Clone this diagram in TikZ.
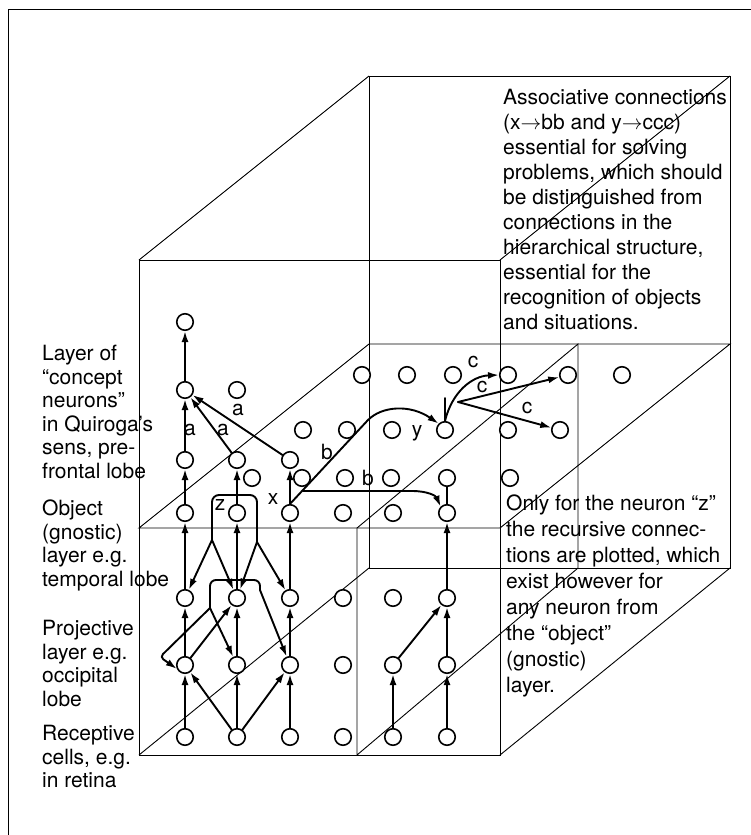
\documentclass[tikz,border=0pt]{standalone}
\usepackage{fontspec}
\setmainfont{TeX Gyre Heros}
\usetikzlibrary{arrows.meta}
\tikzset{
  neuron/.style={circle, draw, line width=1.6pt, fill=white, minimum size=16.5pt, inner sep=0pt},
  link/.style={line width=1.9pt, line cap=round, line join=round},
  syn/.style={link, -{Latex[length=11pt,width=7pt]}},
  wire/.style={line width=0.9pt},
  note/.style={font=\fontsize{21}{23.5}\selectfont, align=left, anchor=north west, inner sep=0pt},
  tag/.style={font=\fontsize{21}{23.5}\selectfont, inner sep=0pt},
}
\begin{document}
\begin{tikzpicture}[x=1pt,y=-1pt]
	\useasboundingbox (0,0) rectangle (751,835);
	\draw[line width=1.2pt] (8.6,835) -- (8.6,9.3) -- (751,9.3);
	% the cube with its layers
	\draw[wire] (369,76) rectangle (730,568);
	\draw[wire] (139,260) rectangle (500,755);
	\draw[wire] (139,260) -- (369,76) (500,260) -- (730,76)
		(139,755) -- (369,568) (500,755) -- (730,568);
	\draw[wire] (139,528) -- (500,528) -- (730,344) -- (369,344) -- cycle;
	\draw[wire] (357,755) -- (357,528) -- (578,344) -- (578,568) -- cycle;
	% texts
	\node[note] (lconcept) at (42,345) {Layer of\\“concept\\neurons”\\in Quiroga’s\\sens, pre-\\frontal lobe};
	\node[note] (lobject) at (42,500) {Object\\(gnostic)\\layer e.g.\\temporal lobe};
	\node[note] (lproj) at (42,620) {Projective\\layer e.g.\\occipital\\lobe};
	\node[note] (lrec) at (42,725) {Receptive\\cells, e.g.\\in retina};
	\node[note, font=\fontsize{21}{25}\selectfont] (assoc) at (503,89) {Associative connections\\(x$\rightarrow$bb and y$\rightarrow$ccc)\\essential for solving\\problems, which should\\be distinguished from\\connections in the\\hierarchical structure,\\essential for the\\recognition of objects\\and situations.};
	\node[note, font=\fontsize{21}{26}\selectfont] (recur) at (506,495) {Only for the neuron “z”\\the recursive connec-\\tions are plotted, which\\exist however for\\any neuron from\\the “object”\\(gnostic)\\layer.};
	% neurons
	\foreach \i/\x in {1/185,2/237,3/290,4/343,5/393,6/447} {
		\node[neuron] (r\i) at (\x,737) {};
		\node[neuron] (p\i) at (\x,665) {};
		\node[neuron] (q\i) at (\x,598) {};
		\node[neuron] (o\i) at (\x,513) {};
	}
	\foreach \i/\x in {1/252,2/302,3/345,4/391,5/447,6/510}
		\node[neuron] (ob\i) at (\x,478) {};
	\foreach \i/\x in {1/185,2/237,3/290}
		\node[neuron] (k\i) at (\x,460) {};
	\foreach \i/\x in {1/303,2/347,3/392,4/445,5/508,6/560}
		\node[neuron] (kb\i) at (\x,430) {};
	\foreach \i/\x in {1/185,2/237}
		\node[neuron] (kc\i) at (\x,390) {};
	\foreach \i/\x in {1/362,2/407,3/453,4/508,5/568,6/622}
		\node[neuron] (kd\i) at (\x,375) {};
	\node[neuron] (top) at (185,322) {};
	% hierarchical connections
	\foreach \a/\b in {r1/p1,p1/q1,q1/o1,o1/k1,k1/kc1,kc1/top,r2/p2,p2/q2,q2/o2,o2/k2,
		r3/p3,p3/q3,q3/o3,o3/k3,r5/p5,r6/p6,p6/q6,q6/o6}
		\draw[syn] (\a) -- (\b);
	\draw[syn] (r2) -- (p1);
	\draw[syn] (r2) -- (p3);
	\draw[syn] (p1) -- (q2);
	\draw[syn] (p5) -- (q6);
	\draw[syn] (k2) -- (kc1);
	\draw[syn] (k3) -- (kc1);
	\draw[link] (ob5) -- (o6);
	% recursive connections of z
	\coordinate (zl) at (212,540);
	\coordinate (zr) at (257,542);
	\draw[link, rounded corners=7pt] (zl) |- (237,495) -| (zr);
	\draw[syn] (zl) -- (q1);
	\draw[syn] (zl) -- (q2);
	\draw[syn] (zr) -- (q2);
	\draw[syn] (zr) -- (q3);
	\coordinate (ql) at (210,608);
	\coordinate (qr) at (260,590);
	\draw[link, rounded corners=6pt] (ql) |- (237,580) -| (qr);
	\draw[syn, rounded corners=4pt] (ql) -- (160,657) -- (p1.205);
	\draw[syn] (ql) -- (p2);
	\draw[syn] (qr) -- (p3);
	% associative connections
	\coordinate (xb) at (303,491);
	\draw[syn] (o3.north) -- (368,420) .. controls (382,406) and (410,404) .. (kb4.north west);
	\draw[syn] (xb) -- (412,491) .. controls (428,491) and (436,496) .. (o6.north west);
	\coordinate (yt) at (445,398);
	\coordinate (yc) at (458,402);
	\draw[link] (kb4) -- (yt);
	\draw[syn] (kb4.north) .. controls (452,392) and (472,376) .. (kd4.west);
	\draw[syn] (yc) -- (kd5);
	\draw[syn] (yc) -- (kb6);
	% labels
	\node[tag] (a1) at (190,430) {a};
	\node[tag] (a2) at (223,430) {a};
	\node[tag] (a3) at (238,410) {a};
	\node[tag] (b1) at (327,452) {b};
	\node[tag] (b2) at (368,478) {b};
	\node[tag] (c1) at (473,362) {c};
	\node[tag] (c2) at (482,387) {c};
	\node[tag] (c3) at (527,408) {c};
	\node[tag] (xl) at (273,499) {x};
	\node[tag] (yl) at (417,433) {y};
	\node[tag] (zlab) at (220,505) {z};
\end{tikzpicture}
\end{document}
